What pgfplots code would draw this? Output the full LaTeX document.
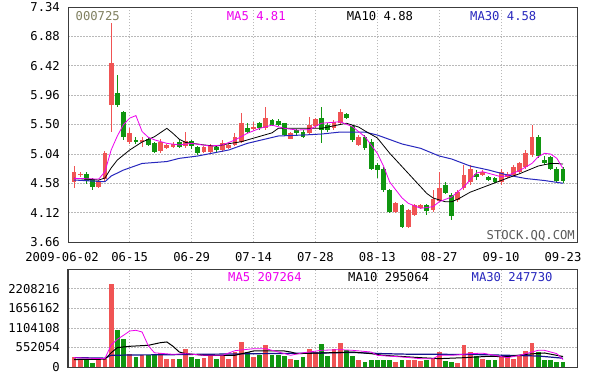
\documentclass[border=0pt]{standalone}
\usepackage{pgfplots}
\pgfplotsset{compat=1.18}
\usepackage{pgfplotstable}
\usepackage{fontspec}
\setmainfont{DejaVu Sans Mono}
\definecolor{upred}{RGB}{240,84,84}
\definecolor{dngreen}{RGB}{16,150,16}
\definecolor{mafive}{RGB}{238,0,238}
\definecolor{mathirty}{RGB}{40,40,190}
\definecolor{volthirty}{RGB}{20,20,140}
\definecolor{codecol}{RGB}{128,128,96}
\definecolor{gridcol}{RGB}{185,185,185}
\definecolor{framecol}{RGB}{60,60,60}

% up (red) days: index, open, high, low, close, volume (thousands)
\pgfplotstableread{
x o h l c v
0 4.60 4.85 4.50 4.76 282
1 4.71 4.76 4.68 4.73 235
4 4.52 4.63 4.51 4.62 188
5 4.65 5.08 4.62 5.05 235
6 5.80 7.09 5.39 6.46 2330
9 5.23 5.44 5.20 5.36 358
11 5.22 5.31 5.15 5.25 329
14 5.08 5.27 5.05 5.23 395
15 5.13 5.20 5.12 5.18 235
16 5.15 5.22 5.14 5.20 216
18 5.16 5.39 5.13 5.24 516
21 5.07 5.17 5.05 5.15 263
22 5.07 5.20 5.05 5.18 357
24 5.10 5.26 5.07 5.21 329
25 5.13 5.20 5.11 5.18 216
26 5.18 5.36 5.16 5.31 422
27 5.23 5.68 5.21 5.52 704
29 5.44 5.54 5.41 5.46 282
31 5.44 5.78 5.41 5.60 629
35 5.28 5.38 5.27 5.36 235
38 5.36 5.62 5.33 5.49 516
39 5.47 5.60 5.45 5.58 422
42 5.44 5.57 5.42 5.54 516
43 5.52 5.75 5.49 5.70 676
46 5.18 5.33 5.16 5.31 207
52 4.13 4.29 4.11 4.27 141
54 3.90 4.17 3.88 4.16 188
55 4.08 4.26 4.06 4.24 188
56 4.19 4.26 4.17 4.24 169
58 4.16 4.47 4.13 4.34 263
59 4.30 4.76 4.29 4.50 422
62 4.32 4.47 4.29 4.45 113
63 4.50 4.87 4.47 4.71 610
64 4.60 4.87 4.55 4.81 422
66 4.71 4.78 4.69 4.76 235
69 4.60 4.81 4.55 4.76 301
70 4.68 4.76 4.66 4.73 301
71 4.71 4.86 4.69 4.84 235
72 4.76 4.92 4.74 4.89 301
73 4.84 5.10 4.81 5.05 451
74 5.02 5.49 4.99 5.31 676
}\updata

% down (green) days
\pgfplotstableread{
x o h l c v
2 4.73 4.76 4.57 4.61 188
3 4.65 4.66 4.47 4.52 113
7 5.99 6.28 5.78 5.81 1050
8 5.70 5.71 5.25 5.30 800
10 5.26 5.30 5.19 5.23 282
12 5.28 5.31 5.16 5.18 329
13 5.21 5.22 5.06 5.07 329
17 5.23 5.25 5.14 5.15 216
19 5.24 5.26 5.12 5.17 282
20 5.15 5.17 5.03 5.05 235
23 5.15 5.17 5.07 5.10 235
28 5.44 5.52 5.36 5.39 422
30 5.52 5.54 5.42 5.44 329
32 5.57 5.59 5.47 5.49 329
33 5.56 5.58 5.47 5.49 329
34 5.52 5.53 5.32 5.34 301
36 5.41 5.43 5.34 5.36 207
37 5.39 5.41 5.29 5.31 282
40 5.60 5.78 5.21 5.41 639
41 5.49 5.52 5.39 5.41 301
44 5.66 5.68 5.58 5.60 488
45 5.47 5.50 5.23 5.26 301
47 5.31 5.33 5.10 5.13 141
48 5.23 5.28 4.79 4.81 207
49 4.86 4.89 4.66 4.79 188
50 4.81 4.83 4.45 4.47 188
51 4.47 4.49 4.12 4.13 188
53 4.24 4.26 3.88 3.90 207
57 4.24 4.26 4.08 4.14 188
60 4.55 4.60 4.41 4.43 169
61 4.40 4.42 4.00 4.06 141
65 4.73 4.79 4.63 4.68 301
67 4.68 4.70 4.61 4.63 207
68 4.66 4.68 4.58 4.60 188
75 5.31 5.33 4.97 5.00 422
76 4.95 5.01 4.87 4.89 207
77 4.99 5.01 4.79 4.81 188
78 4.81 4.83 4.58 4.62 141
79 4.81 4.83 4.58 4.62 141
}\dndata

\pgfplotsset{
  stockaxis/.style={
    scale only axis, width=509pt, xmin=-0.97, xmax=81.26,
    axis line style={draw=framecol, line width=1pt},
    major tick length=0pt,
    grid=major,
    major grid style={draw=gridcol, line width=0.6pt, dash pattern=on 1.5pt off 1.5pt},
    xtick={9,19,29,39,49,59,69},
    /pgf/number format/assume math mode=true,
    yticklabel style={anchor=east, inner sep=0pt, xshift=-8pt},
    clip=true,
  },
  wick/.style={forget plot, draw=none, mark=none, mark size=0pt,
    error bars/.cd, y dir=both, y explicit, error mark=none,
    error bar style={draw=#1, line width=1pt}},
  body/.style={forget plot, draw=none, mark=none, mark size=0pt,
    error bars/.cd, y dir=both, y explicit, error mark=none,
    error bar style={draw=#1, line width=4.8pt}},
}

\begin{document}
\begin{tikzpicture}[font=\fontsize{12.2}{14}\selectfont]
\path[use as bounding box] (0pt,0pt) rectangle (597pt,-373pt);
\fill[white] (0pt,0pt) rectangle (597pt,-373pt);

% ---------------- price panel ----------------
\begin{axis}[stockaxis,
  at={(68pt,-7pt)}, anchor=north west, height=235pt,
  ymin=3.66, ymax=7.34,
  ytick={3.66,4.12,4.58,5.04,5.50,5.96,6.42,6.88,7.34},
  yticklabels={3.66,4.12,4.58,5.04,5.50,5.96,6.42,6.88,7.34},
  xticklabels={06-15,06-29,07-14,07-28,08-13,08-27,09-10},
  extra x ticks={79}, extra x tick labels={09-23},
  extra x tick style={grid=none},
  xticklabel style={anchor=base, inner sep=0pt, yshift=-19.7pt},
]
\addplot[wick=upred] table[x=x, y expr={(\thisrow{h}+\thisrow{l})/2}, y error expr={(\thisrow{h}-\thisrow{l})/2}] {\updata};
\addplot[body=upred] table[x=x, y expr={(\thisrow{o}+\thisrow{c})/2}, y error expr={max(abs(\thisrow{c}-\thisrow{o})/2,0.01)}] {\updata};
\addplot[wick=dngreen] table[x=x, y expr={(\thisrow{h}+\thisrow{l})/2}, y error expr={(\thisrow{h}-\thisrow{l})/2}] {\dndata};
\addplot[body=dngreen] table[x=x, y expr={(\thisrow{o}+\thisrow{c})/2}, y error expr={max(abs(\thisrow{c}-\thisrow{o})/2,0.01)}] {\dndata};

% MA30
\addplot[mathirty, line width=1pt, mark=none] coordinates {
(0,4.631) (5,4.604) (6,4.693) (8,4.787) (11,4.89) (15,4.92) (17,4.97) (20,5.007)
(25,5.101) (28,5.205) (33,5.320) (37,5.335) (40,5.351) (43,5.382) (47,5.382)
(49,5.335) (53,5.195) (56,5.127) (59,5.007) (61,4.960) (64,4.850) (67,4.787)
(70,4.709) (73,4.654) (76,4.623) (79,4.58)};
% MA10
\addplot[black, line width=0.8pt, mark=none] coordinates {
(0,4.657) (4,4.631) (5,4.662) (6,4.819) (7,4.944) (9,5.101) (11,5.226) (13,5.309)
(15,5.44) (16,5.36) (17,5.27) (18,5.22) (21,5.18) (23,5.16) (25,5.20) (27,5.23)
(32,5.37) (33,5.44) (38,5.44) (40,5.44) (44,5.52) (46,5.46) (47,5.40) (49,5.29)
(51,5.05) (53,4.84) (55,4.63) (57,4.42) (58,4.35) (60,4.29) (61,4.29) (62,4.33)
(64,4.44) (67,4.55) (70,4.66) (72,4.73) (75,4.85) (77,4.89) (78,4.89) (79,4.88)};
% MA5
\addplot[mafive, line width=0.8pt, mark=none] coordinates {
(0,4.657) (4,4.646) (5,4.761) (6,5.10) (7,5.32) (8,5.50) (9,5.60) (10,5.64)
(11,5.39) (12,5.30) (13,5.26) (15,5.205) (17,5.18) (19,5.205) (22,5.163)
(24,5.18) (26,5.257) (28,5.362) (30,5.44) (32,5.49) (34,5.44) (36,5.414)
(38,5.42) (40,5.52) (43,5.544) (45,5.465) (47,5.309) (49,5.049) (50,4.85)
(51,4.60) (52,4.474) (53,4.35) (54,4.266) (56,4.188) (58,4.213) (59,4.291)
(61,4.365) (63,4.526) (65,4.74) (66,4.761) (68,4.709) (69,4.682) (70,4.70)
(72,4.78) (74,4.892) (75,4.996) (76,5.049) (77,5.038) (78,4.971) (79,4.81)};
\end{axis}

% ---------------- volume panel ----------------
\begin{axis}[stockaxis,
  at={(68pt,-269pt)}, anchor=north west, height=98pt,
  ymin=0, ymax=2760.27,
  ytick={0,552.054,1104.108,1656.162,2208.216},
  yticklabels={0,552054,1104108,1656162,2208216},
  xticklabels={},
]
\addplot[forget plot, ycomb, mark=none, draw=upred, line width=4.8pt] table[x=x, y=v] {\updata};
\addplot[forget plot, ycomb, mark=none, draw=dngreen, line width=4.8pt] table[x=x, y=v] {\dndata};
% MA30
\addplot[volthirty, line width=1.2pt, mark=none] coordinates {
(0,265) (5,250) (6,330) (10,340) (15,345) (20,357) (30,376) (40,395) (45,410)
(50,376) (55,357) (60,357) (65,350) (70,330) (75,310) (79,248)};
% MA10
\addplot[black, line width=1pt, mark=none] coordinates {
(0,210) (5,220) (6,400) (7,546) (9,583) (12,611) (14,687) (15,705) (16,583)
(17,423) (18,377) (21,330) (26,330) (29,451) (34,451) (35,423) (36,376) (40,395)
(45,422) (48,376) (50,329) (56,263) (59,235) (63,263) (67,301) (70,290) (73,357)
(76,395) (79,295)};
% MA5
\addplot[mafive, line width=0.8pt, mark=none] coordinates {
(0,265) (4,237) (5,240) (6,620) (7,780) (8,893) (9,1014) (10,1034) (11,986)
(12,600) (13,400) (16,357) (18,377) (21,330) (24,330) (26,460) (29,516) (31,516)
(34,377) (35,330) (37,400) (40,470) (43,488) (45,470) (48,422) (49,329) (53,282)
(56,235) (58,235) (59,329) (61,329) (64,376) (66,390) (68,329) (70,263) (72,329)
(75,470) (76,470) (78,376) (79,207)};
\end{axis}

% ---------------- texts ----------------
\node[anchor=base west, inner sep=0pt, text=codecol] at (75.5pt,-20.7pt) {000725};
\node[anchor=base west, inner sep=0pt, text=mafive] at (226.7pt,-20.7pt) {MA5 4.81};
\node[anchor=base west, inner sep=0pt, text=black] at (346.7pt,-20.7pt) {MA10 4.88};
\node[anchor=base west, inner sep=0pt, text=mathirty] at (470pt,-20.7pt) {MA30 4.58};
\node[anchor=base east, inner sep=0pt, text=black!65] at (575pt,-239.3pt) {STOCK.QQ.COM};
\node[anchor=base, inner sep=0pt] at (62pt,-261.7pt) {2009-06-02};
\node[anchor=base west, inner sep=0pt, text=mafive] at (228pt,-281.7pt) {MA5 207264};
\node[anchor=base west, inner sep=0pt, text=black] at (348pt,-281.7pt) {MA10 295064};
\node[anchor=base west, inner sep=0pt, text=mathirty] at (471.5pt,-281.7pt) {MA30 247730};
\end{tikzpicture}
\end{document}
